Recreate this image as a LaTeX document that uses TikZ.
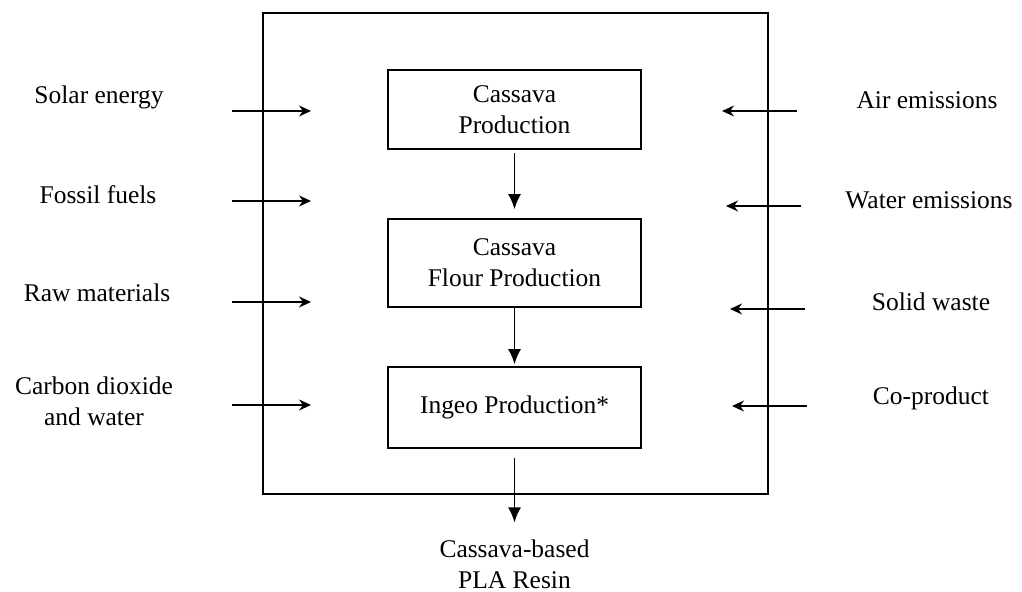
\documentclass[tikz,border=0pt]{standalone}
\usepackage{fontspec}
\setmainfont{Liberation Serif}
\usetikzlibrary{arrows.meta,positioning}

\begin{document}
\begin{tikzpicture}[>=Latex,
    stage/.style={draw,line width=0.9pt,minimum width=50.6mm,align=center,
      font=\fontsize{14.5}{17.5}\selectfont},
    flowlabel/.style={align=center,font=\fontsize{14.5}{17.5}\selectfont},
    flow/.style={line width=0.8pt,-{Stealth[length=2.4mm,width=2.2mm]}},
    mainflow/.style={line width=1pt,-{Latex[length=3mm,width=2.6mm]}}]
  \useasboundingbox (0,0) rectangle (20.44,11.84);

  % system boundary
  \draw[line width=0.9pt] (5.26,1.96) rectangle (15.36,11.58);

  % process stages
  \node[stage,minimum height=15.8mm] (cassava) at (10.29,9.65) {Cassava\\Production};
  \node[stage,minimum height=17.6mm] (flour) at (10.29,6.58) {Cassava\\Flour Production};
  \node[stage,minimum height=16.2mm] (ingeo) at (10.29,3.69) {Ingeo Production*};

  \draw[mainflow,shorten <=0.06cm,shorten >=0.18cm] (cassava) -- (flour);
  \draw[mainflow,shorten >=0.04cm] (flour) -- (ingeo);

  % product
  \node[flowlabel] (resin) at (10.29,0.56) {Cassava-based\\PLA Resin};
  \draw[mainflow,shorten <=0.18cm,shorten >=0.22cm] (ingeo) -- (resin);

  % inputs
  \node[flowlabel] (solar) at (1.98,9.90) {Solar energy};
  \node[flowlabel] (fossil) at (1.96,7.94) {Fossil fuels};
  \node[flowlabel] (raw) at (1.94,5.98) {Raw materials};
  \node[flowlabel] (carbon) at (1.88,3.82) {Carbon dioxide\\and water};
  \foreach \y [count=\i] in {9.62,7.82,5.80,3.74} {
    \coordinate (in\i) at (4.64,\y);
    \coordinate (inE\i) at (6.22,\y);
    \draw[flow] (in\i) -- (inE\i);
  }

  % outputs
  \node[flowlabel] (air) at (18.54,9.84) {Air emissions};
  \node[flowlabel] (water) at (18.58,7.84) {Water emissions};
  \node[flowlabel] (solid) at (18.62,5.80) {Solid waste};
  \node[flowlabel] (coprod) at (18.62,3.88) {Co-product};
  \foreach \y/\xs/\xe [count=\i] in {9.62/15.94/14.44,7.72/16.02/14.52,5.66/16.10/14.60,3.72/16.14/14.64} {
    \coordinate (out\i) at (\xs,\y);
    \coordinate (outE\i) at (\xe,\y);
    \draw[flow] (out\i) -- (outE\i);
  }
\end{tikzpicture}
\end{document}
